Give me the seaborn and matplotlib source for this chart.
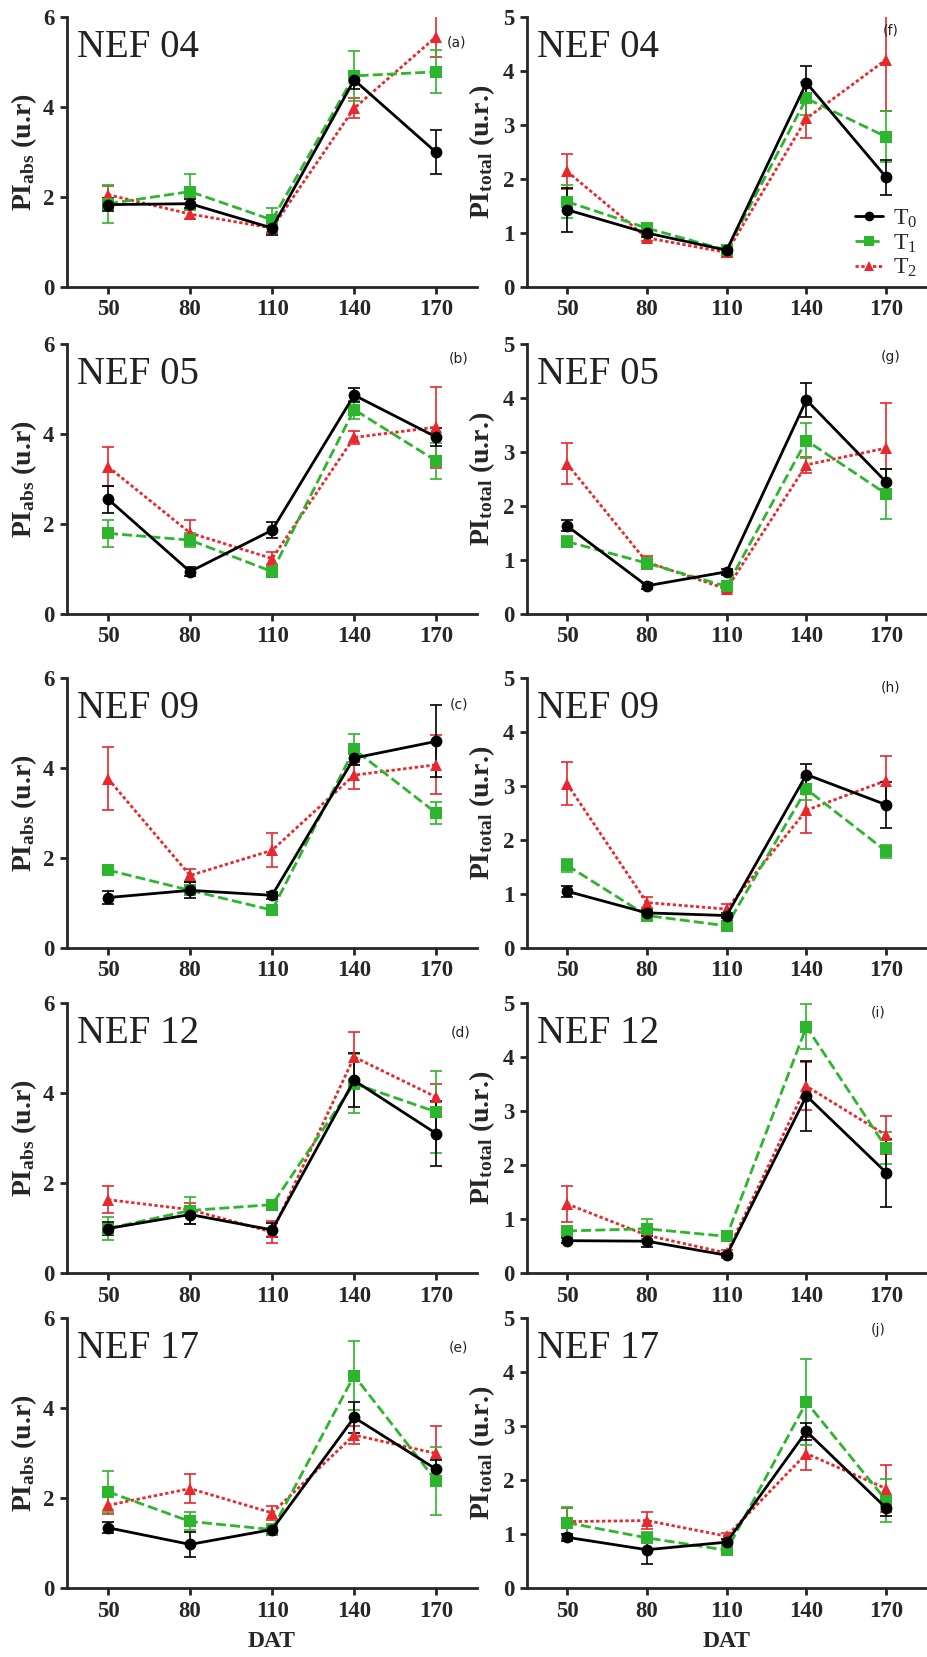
import numpy as np
import pandas as pd
import matplotlib
matplotlib.use("Agg")
import matplotlib.pyplot as plt
from matplotlib.lines import Line2D
import seaborn as sns

# ---- data -------------------------------------------------------------
dat = [50, 80, 110, 140, 170]
treatments = ["T0", "T1", "T2"]
genotypes = ["NEF 04", "NEF 05", "NEF 09", "NEF 12", "NEF 17"]
abs_letters = ["(a)", "(b)", "(c)", "(d)", "(e)"]
total_letters = ["(f)", "(g)", "(h)", "(i)", "(j)"]

# PI_abs: rows are T0, T1, T2
abs_04_mean = [[1.83, 1.85, 1.31, 4.60, 2.99], [1.85, 2.12, 1.49, 4.69, 4.78], [2.05, 1.62, 1.31, 3.97, 5.56]]
abs_04_err = [[0.15, 0.10, 0.15, 0.20, 0.49], [0.42, 0.40, 0.26, 0.55, 0.48], [0.20, 0.10, 0.12, 0.22, 0.45]]
abs_05_mean = [[2.55, 0.94, 1.86, 4.86, 3.93], [1.79, 1.64, 0.94, 4.54, 3.40], [3.27, 1.80, 1.23, 3.92, 4.15]]
abs_05_err = [[0.30, 0.10, 0.18, 0.15, 0.20], [0.30, 0.15, 0.10, 0.20, 0.40], [0.43, 0.28, 0.15, 0.15, 0.90]]
abs_09_mean = [[1.12, 1.28, 1.17, 4.22, 4.59], [1.73, 1.28, 0.84, 4.41, 3.00], [3.76, 1.61, 2.17, 3.84, 4.07]]
abs_09_err = [[0.15, 0.18, 0.08, 0.15, 0.80], [0.10, 0.10, 0.08, 0.35, 0.25], [0.70, 0.15, 0.38, 0.30, 0.65]]
abs_12_mean = [[0.99, 1.30, 0.96, 4.28, 3.10], [0.99, 1.39, 1.52, 4.21, 3.58], [1.63, 1.41, 0.91, 4.80, 3.91]]
abs_12_err = [[0.15, 0.20, 0.15, 0.60, 0.72], [0.25, 0.30, 0.08, 0.65, 0.92], [0.30, 0.15, 0.25, 0.55, 0.30]]
abs_17_mean = [[1.34, 0.97, 1.30, 3.79, 2.64], [2.14, 1.48, 1.30, 4.72, 2.38], [1.84, 2.21, 1.67, 3.40, 2.99]]
abs_17_err = [[0.12, 0.28, 0.10, 0.35, 0.20], [0.45, 0.20, 0.12, 0.77, 0.75], [0.20, 0.33, 0.15, 0.20, 0.60]]

# PI_total: rows are T0, T1, T2
tot_04_mean = [[1.43, 1.00, 0.68, 3.78, 2.03], [1.58, 1.09, 0.68, 3.49, 2.78], [2.14, 0.91, 0.64, 3.12, 4.21]]
tot_04_err = [[0.41, 0.08, 0.08, 0.32, 0.33], [0.30, 0.08, 0.10, 0.30, 0.47], [0.32, 0.06, 0.08, 0.37, 0.95]]
tot_05_mean = [[1.63, 0.52, 0.78, 3.96, 2.44], [1.34, 0.94, 0.51, 3.21, 2.22], [2.78, 0.96, 0.46, 2.76, 3.07]]
tot_05_err = [[0.10, 0.05, 0.06, 0.32, 0.25], [0.10, 0.10, 0.06, 0.32, 0.47], [0.38, 0.12, 0.05, 0.15, 0.83]]
tot_09_mean = [[1.05, 0.65, 0.60, 3.21, 2.65], [1.53, 0.60, 0.41, 2.94, 1.79], [3.04, 0.84, 0.72, 2.55, 3.10]]
tot_09_err = [[0.10, 0.05, 0.05, 0.20, 0.43], [0.12, 0.06, 0.06, 0.20, 0.12], [0.40, 0.10, 0.10, 0.42, 0.46]]
tot_12_mean = [[0.60, 0.59, 0.33, 3.28, 1.86], [0.78, 0.82, 0.68, 4.56, 2.32], [1.28, 0.70, 0.37, 3.46, 2.55]]
tot_12_err = [[0.05, 0.10, 0.04, 0.65, 0.63], [0.05, 0.18, 0.06, 0.42, 0.30], [0.33, 0.08, 0.05, 0.45, 0.35]]
tot_17_mean = [[0.94, 0.71, 0.85, 2.90, 1.48], [1.21, 0.93, 0.70, 3.44, 1.62], [1.23, 1.25, 0.96, 2.49, 1.84]]
tot_17_err = [[0.06, 0.26, 0.05, 0.15, 0.15], [0.30, 0.10, 0.06, 0.80, 0.40], [0.25, 0.15, 0.06, 0.30, 0.43]]

abs_means = [abs_04_mean, abs_05_mean, abs_09_mean, abs_12_mean, abs_17_mean]
abs_errs = [abs_04_err, abs_05_err, abs_09_err, abs_12_err, abs_17_err]
tot_means = [tot_04_mean, tot_05_mean, tot_09_mean, tot_12_mean, tot_17_mean]
tot_errs = [tot_04_err, tot_05_err, tot_09_err, tot_12_err, tot_17_err]

# ---- style ------------------------------------------------------------
sns.set_style("ticks")
plt.rcParams["font.family"] = ["Liberation Serif", "DejaVu Serif"]
plt.rcParams["mathtext.fontset"] = "custom"
plt.rcParams["mathtext.rm"] = "Liberation Serif"
plt.rcParams["mathtext.default"] = "regular"

colors = {"T0": "#000000", "T1": "#2db52d", "T2": "#e8282d"}
markers = {"T0": "o", "T1": "s", "T2": "^"}
dashes = {"T0": "", "T1": (3.6, 1.5), "T2": (1.2, 0.9)}

fig = plt.figure(figsize=(9.28, 16.57), dpi=100)

row_bottoms = [0.8268, 0.6295, 0.4279, 0.2317, 0.0416]
ax_h = 0.163
left_x, left_w = 0.0722, 0.442
right_x, right_w = 0.568, 0.430

abs_letter_pos = [(0.95, 0.905), (0.955, 0.945), (0.955, 0.90), (0.96, 0.89), (0.955, 0.89)]
tot_letter_pos = [(0.91, 0.95), (0.91, 0.95), (0.91, 0.963), (0.88, 0.963), (0.88, 0.955)]


def draw_panel(ax, means, errs, ymax, ylabel, title, letter, letter_xy, last):
    rows = []
    for ti, t in enumerate(treatments):
        for d, v in zip(dat, means[ti]):
            rows.append({"DAT": d, "PI": v, "trt": t})
    df = pd.DataFrame(rows)

    # error bars below the lines; T0 drawn last so it sits on top
    for ti, t in reversed(list(enumerate(treatments))):
        ax.errorbar(dat, means[ti], yerr=errs[ti], fmt="none", ecolor=colors[t],
                    elinewidth=1.2, capsize=4.5, capthick=1.2, zorder=2 + (2 - ti))
    sns.lineplot(data=df, x="DAT", y="PI", hue="trt", style="trt",
                 hue_order=["T2", "T1", "T0"], style_order=["T2", "T1", "T0"],
                 palette=colors, markers=markers, dashes=dashes,
                 markersize=8.5, markeredgewidth=0, linewidth=2.0,
                 legend=False, ax=ax, zorder=5)

    ax.set_xlim(35, 185)
    ax.set_ylim(0, ymax)
    ax.set_xticks(dat)
    ax.set_yticks(range(0, ymax + 1, 2 if ymax == 6 else 1))
    for s in ["top", "right"]:
        ax.spines[s].set_visible(False)
    for s in ["left", "bottom"]:
        ax.spines[s].set_linewidth(2.0)
    ax.tick_params(axis="both", direction="out", length=5, width=2, labelsize=16.5, pad=4)
    for lab in ax.get_xticklabels() + ax.get_yticklabels():
        lab.set_fontweight("bold")
    ax.set_ylabel(ylabel, fontsize=20, fontweight="bold")
    ax.yaxis.set_label_coords(-0.068, 0.5)
    if last:
        ax.set_xlabel("DAT", fontsize=17, fontweight="bold", labelpad=7)
    else:
        ax.set_xlabel("")
    ax.text(0.025, 0.955, title, transform=ax.transAxes, fontsize=28,
            ha="left", va="top", color="#222222")
    ax.text(letter_xy[0], letter_xy[1], letter, transform=ax.transAxes,
            fontsize=10, family="DejaVu Sans", ha="center", va="center", color="#222222")


for r in range(5):
    axl = fig.add_axes([left_x, row_bottoms[r], left_w, ax_h])
    draw_panel(axl, abs_means[r], abs_errs[r], 6, r"PI$_{abs}$ (u.r)",
               genotypes[r], abs_letters[r], abs_letter_pos[r], r == 4)
    axr = fig.add_axes([right_x, row_bottoms[r], right_w, ax_h])
    draw_panel(axr, tot_means[r], tot_errs[r], 5, r"PI$_{total}$ (u.r.)",
               genotypes[r], total_letters[r], tot_letter_pos[r], r == 4)
    axr.yaxis.set_label_coords(-0.075, 0.5)
    if r == 0:
        handles = []
        for t in treatments:
            h = Line2D([], [], color=colors[t], marker=markers[t], markersize=7,
                       markeredgewidth=0, linewidth=2.0)
            if t != "T0":
                h.set_dashes(dashes[t])
            handles.append(h)
        axr.legend(handles, [r"T$_0$", r"T$_1$", r"T$_2$"], loc="lower right",
                   bbox_to_anchor=(1.03, -0.05), frameon=False, fontsize=17,
                   handlelength=1.2, handletextpad=0.4, labelspacing=0.1)

fig.savefig("out.png", dpi=100)
